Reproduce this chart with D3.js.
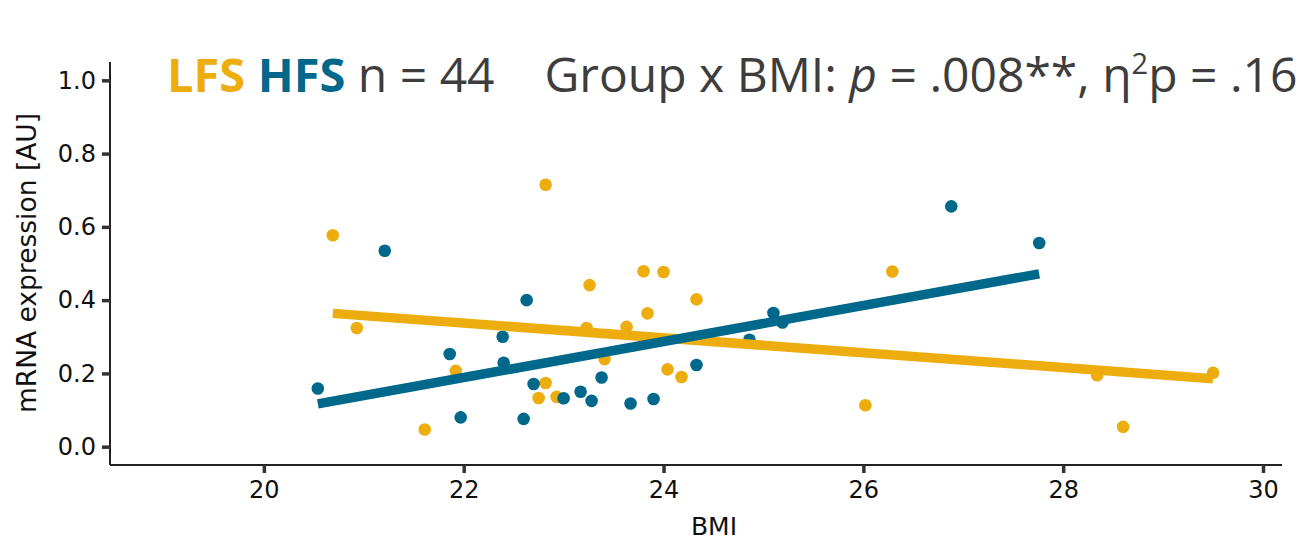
<!DOCTYPE html>
<html>
<head>
<meta charset="utf-8">
<script src="https://cdn.jsdelivr.net/npm/d3@7"></script>
<style>
  body { margin: 0; background: #fff; }
  text { white-space: pre; }
</style>
</head>
<body>
<svg id="chart" width="1300" height="540"></svg>
<script>
// valeurs
var groups = ["LFS", "HFS"];
var groupColors = ["#EEAD0E", "#00688B"];

var lfsBmi = [22.82, 20.69, 20.93, 21.92, 21.61, 23.26, 23.80, 24.00, 23.84, 24.33, 23.23, 23.63,
              23.41, 22.82, 22.75, 22.93, 24.04, 24.18, 26.29, 26.02, 28.34, 29.50, 28.60];
var lfsExpr = [0.715, 0.577, 0.324, 0.207, 0.047, 0.441, 0.479, 0.477, 0.364, 0.402, 0.324, 0.327,
               0.239, 0.174, 0.133, 0.136, 0.211, 0.190, 0.478, 0.113, 0.195, 0.202, 0.054];

var hfsBmi = [20.54, 21.21, 22.63, 22.39, 21.86, 22.40, 21.97, 22.60, 22.70, 23.00, 23.17, 23.28,
              23.38, 23.67, 23.90, 24.33, 24.86, 25.10, 25.19, 26.88, 27.76];
var hfsExpr = [0.159, 0.535, 0.400, 0.300, 0.253, 0.229, 0.080, 0.076, 0.171, 0.132, 0.150, 0.125,
               0.189, 0.118, 0.130, 0.223, 0.292, 0.365, 0.339, 0.656, 0.556];

var xTicks = [20, 22, 24, 26, 28, 30];
var yTicks = [0, 0.2, 0.4, 0.6, 0.8, 1.0];

var svg = d3.select("#chart");
var mLeft = 110, mRight = 1282, mTop = 62, mBottom = 465;

var x = d3.scaleLinear().domain([18.46, 30.19]).range([mLeft, mRight]);
var y = d3.scaleLinear().domain([-0.05, 1.05]).range([mBottom, mTop]);

var series = [
  {name: groups[0], color: groupColors[0], xs: lfsBmi, ys: lfsExpr},
  {name: groups[1], color: groupColors[1], xs: hfsBmi, ys: hfsExpr}
];

// axes
var gy = svg.append("g")
    .attr("transform", "translate(" + mLeft + ",0)")
    .call(d3.axisLeft(y).tickValues(yTicks).tickFormat(d3.format(".1f")).tickSize(8).tickPadding(6));
var gx = svg.append("g")
    .attr("transform", "translate(0," + mBottom + ")")
    .call(d3.axisBottom(x).tickValues(xTicks).tickFormat(d3.format("d")).tickSize(8).tickPadding(8));

[gx, gy].forEach(function(g) {
  g.select(".domain").attr("stroke", "#222").attr("stroke-width", 2);
  g.selectAll(".tick line").attr("stroke", "#333").attr("stroke-width", 3.5);
  g.selectAll(".tick text")
    .attr("fill", "#111")
    .style("font-family", "DejaVu Sans")
    .style("font-size", "24px");
});
gy.select(".domain").attr("d", "M0," + mTop + "V" + mBottom);
gx.select(".domain").attr("d", "M" + mLeft + ",0H" + mRight);

svg.append("text")
    .attr("x", 714).attr("y", 535)
    .attr("text-anchor", "middle")
    .style("font-family", "DejaVu Sans").style("font-size", "25px").attr("fill", "#111")
    .text("BMI");

svg.append("text")
    .attr("transform", "translate(36,263) rotate(-90)")
    .attr("text-anchor", "middle")
    .style("font-family", "DejaVu Sans").style("font-size", "26.5px").attr("fill", "#111")
    .text("mRNA expression [AU]");

// droites de régression (moindres carrés)
function fit(xs, ys) {
  var mx = d3.mean(xs), my = d3.mean(ys);
  var sxy = d3.sum(xs, function(v, i) { return (v - mx) * (ys[i] - my); });
  var sxx = d3.sum(xs, function(v) { return (v - mx) * (v - mx); });
  var b = sxy / sxx;
  return {a: my - b * mx, b: b};
}

var line = d3.line().x(function(d) { return x(d[0]); }).y(function(d) { return y(d[1]); });

series.forEach(function(s) {
  var g = svg.append("g");
  g.selectAll("circle")
    .data(d3.range(s.xs.length))
    .enter().append("circle")
      .attr("cx", function(i) { return x(s.xs[i]); })
      .attr("cy", function(i) { return y(s.ys[i]); })
      .attr("r", 6.3)
      .attr("fill", s.color);
});

series.forEach(function(s) {
  var f = fit(s.xs, s.ys);
  var ext = d3.extent(s.xs);
  svg.append("path")
    .attr("d", line(ext.map(function(v) { return [v, f.a + f.b * v]; })))
    .attr("stroke", s.color)
    .attr("stroke-width", 9.5)
    .attr("fill", "none");
});

// titre
var title = svg.append("text")
    .attr("x", 167).attr("y", 92)
    .style("font-family", "Open Sans").style("font-size", "48px")
    .attr("fill", "#3d3d3d");
title.append("tspan").attr("font-weight", "bold").attr("font-size", "47px").attr("fill", groupColors[0]).text(groups[0]);
title.append("tspan").text(" ");
title.append("tspan").attr("font-weight", "bold").attr("font-size", "47px").attr("fill", groupColors[1]).text(groups[1]);
title.append("tspan").text(" n = " + (lfsBmi.length + hfsBmi.length) + "    Group x BMI: ");
title.append("tspan").attr("font-style", "italic").text("p");
title.append("tspan").text(" = .008**, η");
title.append("tspan").attr("font-size", "29px").attr("dy", -18).text("2");
title.append("tspan").attr("dy", 18).text("p = .16");
</script>
</body>
</html>
